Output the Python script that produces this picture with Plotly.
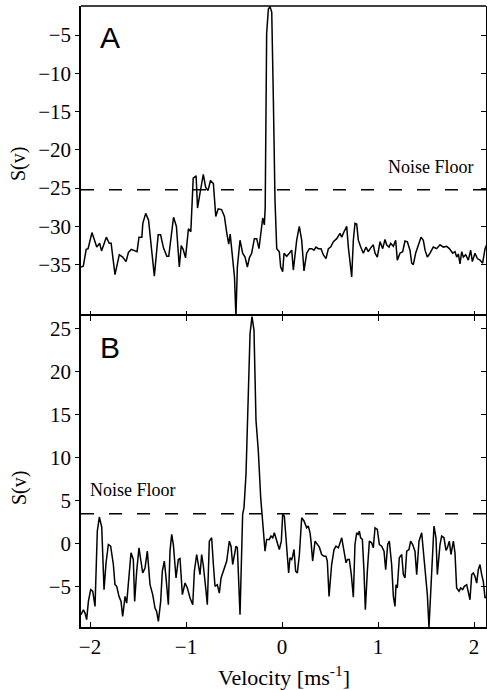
import plotly.graph_objects as go

# ---------------- data ----------------
# Panel A: velocity [m/s] and S(v)
vel_a = [-2.094, -2.07, -2.04, -2.02, -1.98, -1.955, -1.93, -1.90, -1.88, -1.83, -1.80, -1.78,
         -1.74, -1.695, -1.66, -1.625, -1.60, -1.57, -1.54, -1.51, -1.49, -1.46, -1.45, -1.42,
         -1.39, -1.375, -1.33, -1.29, -1.265, -1.235, -1.20, -1.18, -1.16, -1.13, -1.10, -1.07,
         -1.05, -1.03, -1.005, -0.975, -0.95, -0.925, -0.895, -0.88, -0.855, -0.82, -0.795, -0.77,
         -0.745, -0.715, -0.69, -0.665, -0.63, -0.60, -0.575, -0.555, -0.54, -0.52, -0.495, -0.48,
         -0.465, -0.4375, -0.41, -0.385, -0.361, -0.34, -0.316, -0.288, -0.264, -0.24, -0.219,
         -0.201, -0.184, -0.175, -0.16, -0.142, -0.125, -0.107, -0.09, -0.073, -0.055, -0.028,
         -0.014, 0.007, 0.021, 0.049, 0.076, 0.101, 0.118, 0.153, 0.18, 0.205, 0.229, 0.257,
         0.285, 0.309, 0.333, 0.354, 0.378, 0.406, 0.43, 0.458, 0.483, 0.507, 0.535, 0.57, 0.604,
         0.622, 0.646, 0.674, 0.691, 0.708, 0.726, 0.743, 0.76, 0.778, 0.795, 0.82, 0.847, 0.875,
         0.899, 0.924, 0.951, 0.969, 0.993, 1.021, 1.049, 1.073, 1.09, 1.115, 1.132, 1.16, 1.184,
         1.201, 1.229, 1.257, 1.281, 1.306, 1.333, 1.351, 1.368, 1.392, 1.42, 1.448, 1.472, 1.49,
         1.514, 1.542, 1.576, 1.611, 1.646, 1.681, 1.715, 1.743, 1.778, 1.802, 1.82, 1.837, 1.854,
         1.872, 1.889, 1.913, 1.941, 1.965, 1.983, 2.01, 2.035, 2.063, 2.09, 2.115, 2.132]
s_a = [-35.3, -35.2, -33.0, -32.9, -30.8, -31.8, -32.7, -32.2, -33.2, -31.4, -32.2, -32.2,
       -36.3, -33.7, -34.0, -34.6, -33.4, -33.0, -33.1, -33.3, -31.4, -31.4, -29.6, -28.3,
       -29.2, -30.9, -36.5, -31.1, -31.1, -32.8, -33.9, -33.9, -31.8, -28.8, -30.0, -35.3,
       -32.5, -33.0, -34.1, -30.3, -30.7, -23.7, -23.4, -27.6, -25.7, -23.2, -24.9, -25.3,
       -24.0, -24.4, -28.7, -27.7, -27.8, -28.7, -30.9, -32.3, -31.0, -33.4, -36.6, -41.8,
       -35.3, -31.8, -33.5, -34.0, -35.3, -34.1, -33.5, -31.6, -31.6, -32.9, -30.5,
       -28.9, -29.8, -27.5, -4.8, -1.6, -1.3, -2.0, -13.5, -26.6, -32.9, -33.3,
       -35.3, -35.9, -33.5, -33.9, -33.5, -33.1, -35.7, -31.8, -30.0, -31.8, -35.8, -33.5,
       -32.9, -32.9, -33.1, -32.7, -32.9, -32.9, -33.7, -34.2, -32.9, -32.7, -32.0, -31.6, -30.9,
       -31.4, -30.7, -30.0, -32.7, -35.0, -36.6, -31.8, -29.6, -29.7, -31.8, -32.7, -33.5, -32.7,
       -33.3, -32.8, -32.4, -33.5, -34.0, -32.0, -32.9, -31.7, -32.4, -32.7, -32.2, -32.6, -31.8,
       -34.4, -33.5, -33.3, -31.9, -32.0, -33.1, -34.8, -35.0, -33.5, -32.4, -31.4, -31.8, -33.1,
       -34.0, -33.5, -32.7, -32.9, -32.4, -32.7, -32.6, -32.9, -33.5, -33.3, -34.0, -33.6, -34.9,
       -33.3, -34.0, -33.7, -34.4, -33.1, -34.6, -33.5, -34.2, -34.4, -34.8, -32.9, -32.4]

# Panel B: velocity [m/s] and S(v)
vel_b = [-2.094, -2.069, -2.052, -2.035, -2.017, -1.993, -1.972, -1.948, -1.924, -1.903, -1.878,
         -1.854, -1.833, -1.809, -1.785, -1.757, -1.74, -1.722, -1.698, -1.677, -1.66, -1.635,
         -1.618, -1.594, -1.573, -1.549, -1.535, -1.514, -1.49, -1.472, -1.451, -1.427, -1.403,
         -1.375, -1.347, -1.323, -1.306, -1.288, -1.264, -1.247, -1.226, -1.208, -1.184, -1.167,
         -1.149, -1.132, -1.104, -1.08, -1.0625, -1.038, -1.01, -0.986, -0.958, -0.93, -0.913,
         -0.889, -0.872, -0.854, -0.837, -0.819, -0.795, -0.778, -0.757, -0.733, -0.715, -0.698,
         -0.674, -0.653, -0.635, -0.611, -0.594, -0.576, -0.549, -0.531, -0.514, -0.497, -0.479,
         -0.465, -0.4375, -0.41, -0.396, -0.375, -0.351, -0.333, -0.3125, -0.292, -0.271, -0.247,
         -0.222, -0.201, -0.177, -0.16, -0.132, -0.115, -0.097, -0.08, -0.056, -0.028, -0.007,
         0.007, 0.024, 0.049, 0.069, 0.083, 0.101, 0.111, 0.125, 0.142, 0.16, 0.181, 0.205, 0.229,
         0.257, 0.274, 0.292, 0.302, 0.319, 0.344, 0.368, 0.389, 0.413, 0.4375, 0.458, 0.472, 0.49,
         0.517, 0.542, 0.5625, 0.587, 0.604, 0.622, 0.646, 0.667, 0.681, 0.701, 0.722, 0.743, 0.76,
         0.778, 0.795, 0.806, 0.819, 0.837, 0.854, 0.868, 0.889, 0.91, 0.934, 0.951, 0.969, 0.993,
         1.014, 1.038, 1.0625, 1.08, 1.101, 1.118, 1.142, 1.16, 1.177, 1.1875, 1.201, 1.222, 1.247,
         1.264, 1.281, 1.299, 1.323, 1.34, 1.361, 1.385, 1.403, 1.427, 1.455, 1.472, 1.49, 1.514,
         1.531, 1.549, 1.569, 1.583, 1.604, 1.618, 1.646, 1.663, 1.6875, 1.708, 1.722, 1.743, 1.76,
         1.785, 1.802, 1.819, 1.844, 1.861, 1.882, 1.899, 1.924, 1.941, 1.958, 1.976, 1.993, 2.01,
         2.028, 2.045, 2.0625, 2.08, 2.097, 2.115, 2.132]
s_b = [-8.23, -7.65, -8.04, -8.8, -6.68, -5.32, -5.5, -7.26, 1.48, 3.11, 1.95,
       -5.32, -2.2, -0.08, -0.27, -2.4, -4.73, -4.93, -6.1, -6.68, -8.43, -6.1,
       -6.88, -3.18, -1.05, -1.82, -6.68, -3.18, -0.47, -1.82, -3.38, -2.8, -0.85,
       -4.73, -5.9, -7.46, -7.85, -9.0, -6.68, -3.18, -2.0, -3.96, -7.07, -0.85,
       1.1, -0.08, -3.96, -1.82, -1.7, -5.9, -4.55, -5.13, -6.29, -7.07, -3.18,
       -1.24, -2.4, -3.57, -1.24, -2.6, -5.13, -7.07, 0.31, 0.7, -2.4, -4.93,
       -4.74, -5.71, -3.96, -3.18, -2.8, -2.0, 0.31, -0.27, -2.4, -1.43, -0.27,
       -0.47, -8.23, 3.43, 4.2, 8.1, 19.4, 24.4, 26.35, 24.8, 14.3, 10.8,
       5.36, 1.86, -0.85, 0.51, 0.51, 0.9, 0.7, 1.28, 0.31, -0.66, 0.31,
       3.43, 3.23, -0.08, -3.38, -1.63, -1.82, -1.43, -0.66, -3.18, -3.38, -1.24, 3.03, 2.65,
       1.86, 2.06, 1.28, 0.31, -2.0, 0.31, -0.08, -0.39, -1.24, -1.43, -1.43, -2.0, -6.1,
       -2.4, -0.66, -0.27, -0.47, 0.12, 0.7, -0.85, -2.2, -1.82, -1.82, -3.57, -6.2, -0.08,
       1.28, 1.1, 1.48, 0.7, 0.51, -3.18, -7.65, -3.18, 0.31, 0.12, -0.47, 1.86, 1.68,
       -0.08, -0.27, -0.85, -2.99, -0.08, 0.31, -2.4, -6.1, -7.26, -4.74, -5.13, -1.62, -1.24,
       -3.57, -3.96, -0.85, -0.66, 0.31, -0.08, -0.85, -3.57, 0.31, 1.28, -0.85, -3.57, -5.9,
       -9.7, -5.9, -0.08, 2.06, 0.7, -3.57, -0.08, 0.9, 0.7, -0.77, -0.47, 0.31, -1.24,
       0.31, -1.05, -5.13, -5.5, -5.13, -5.32, -4.93, -4.74, -5.71, -6.49, -3.57, -3.38, -3.77,
       -4.55, -3.0, -2.4, -3.57, -4.35, -6.29, -6.1]

noise_floor_a = -25.2
noise_floor_b = 3.5

x_ticks = [-2, -1, 0, 1, 2]
y_ticks_a = [-35, -30, -25, -20, -15, -10, -5]
y_ticks_b = [-5, 0, 5, 10, 15, 20, 25]

x_range = [-2.094, 2.125]
y_range_a = [-41.7, -1.21]
y_range_b = [-9.65, 26.43]

# ---------------- figure ----------------
SERIF = "Liberation Serif, Times New Roman, serif"
SANS = "Liberation Sans, Arial, sans-serif"
LINE = dict(color="black", width=1.5)

fig = go.Figure()
fig.add_trace(go.Scatter(x=vel_a, y=s_a, xaxis="x", yaxis="y", mode="lines",
                         line=LINE, showlegend=False, hoverinfo="skip"))
fig.add_trace(go.Scatter(x=vel_b, y=s_b, xaxis="x2", yaxis="y2", mode="lines",
                         line=LINE, showlegend=False, hoverinfo="skip"))
# invisible traces so the right-hand tick axes render
fig.add_trace(go.Scatter(x=vel_a, y=s_a, xaxis="x", yaxis="y3", mode="lines",
                         line=dict(width=0), opacity=0, showlegend=False, hoverinfo="skip"))
fig.add_trace(go.Scatter(x=vel_b, y=s_b, xaxis="x2", yaxis="y4", mode="lines",
                         line=dict(width=0), opacity=0, showlegend=False, hoverinfo="skip"))

split = 311 / 621
TICKFONT = dict(family=SERIF, size=21, color="black")
common_x = dict(range=x_range, tickvals=x_ticks, showgrid=False, zeroline=False,
                linecolor="black", linewidth=1.5,
                ticks="inside", ticklen=5, tickwidth=1, tickcolor="black",
                tickfont=TICKFONT, domain=[0, 1])
common_y = dict(showgrid=False, zeroline=False, showline=True, linecolor="black",
                linewidth=1.5, mirror=True, ticks="outside", ticklen=4, tickwidth=1,
                tickcolor="black", tickfont=TICKFONT)
right_y = dict(showgrid=False, zeroline=False, showline=False, side="right",
               ticks="inside", ticklen=5, tickwidth=1, tickcolor="black",
               showticklabels=False)

fig.update_layout(
    width=487, height=690,
    margin=dict(l=81, r=1, t=6, b=63, autoexpand=False),
    paper_bgcolor="white", plot_bgcolor="white",
    xaxis=dict(common_x, anchor="y", showline=False, showticklabels=False),
    xaxis2=dict(common_x, anchor="y2", showline=True, mirror="ticks", showticklabels=True),
    yaxis=dict(common_y, domain=[split, 1], anchor="x", range=y_range_a, tickvals=y_ticks_a),
    yaxis2=dict(common_y, domain=[0, split], anchor="x2", range=y_range_b, tickvals=y_ticks_b),
    yaxis3=dict(right_y, overlaying="y", anchor="x", range=y_range_a, tickvals=y_ticks_a),
    yaxis4=dict(right_y, overlaying="y2", anchor="x2", range=y_range_b, tickvals=y_ticks_b),
)

# top frame edge of panel A
fig.add_shape(type="line", xref="x domain", x0=0, x1=1, yref="y domain", y0=1, y1=1,
              line=dict(color="black", width=1.5))

dash = "13px,15px"
fig.add_shape(type="line", xref="x domain", x0=0, x1=1, yref="y",
              y0=noise_floor_a, y1=noise_floor_a, line=dict(color="black", width=1.5, dash=dash))
fig.add_shape(type="line", xref="x2 domain", x0=0, x1=1, yref="y2",
              y0=noise_floor_b, y1=noise_floor_b, line=dict(color="black", width=1.5, dash=dash))

C = dict(showarrow=False, xanchor="center", yanchor="middle")
ann = []
ann.append(dict(C, text="A", xref="x domain", yref="y domain", x=0.0716, y=0.898,
                font=dict(family=SANS, size=30, color="black")))
ann.append(dict(C, text="B", xref="x2 domain", yref="y2 domain", x=0.0716, y=0.8987,
                font=dict(family=SANS, size=30, color="black")))
ann.append(dict(C, text="Noise Floor", xref="x domain", yref="y domain", x=0.8654, y=0.4806,
                font=dict(family=SERIF, size=18, color="black")))
ann.append(dict(C, text="Noise Floor", xref="x2 domain", yref="y2 domain", x=0.1296, y=0.4405,
                font=dict(family=SERIF, size=18, color="black")))
ann.append(dict(C, text="S(v)", xref="paper", yref="paper", x=-0.153, y=0.7456, textangle=-90,
                font=dict(family=SERIF, size=20, color="black")))
ann.append(dict(C, text="S(v)", xref="paper", yref="paper", x=-0.153, y=0.2238, textangle=-90,
                font=dict(family=SERIF, size=20, color="black")))
ann.append(dict(C, text="Velocity [ms<sup>-1</sup>]", xref="paper", yref="paper", x=0.501,
                y=-0.0789, font=dict(family=SERIF, size=22, color="black")))
fig.update_layout(annotations=ann)

fig.write_html("out.html", config={"displayModeBar": False},
               post_script="document.body.style.margin='0';document.body.style.padding='0';")
